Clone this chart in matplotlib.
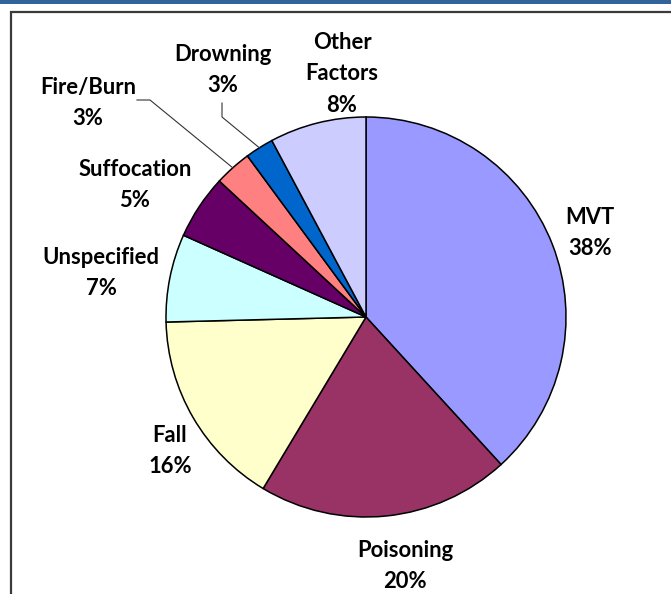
import numpy as np
import matplotlib
matplotlib.use('Agg')
import matplotlib.pyplot as plt
from matplotlib.patches import Rectangle

# datos del grafico
labels = ['MVT', 'Poisoning', 'Fall', 'Unspecified', 'Suffocation',
          'Fire/Burn', 'Drowning', 'Other\nFactors']
shares = [38.2, 20.4, 16.0, 7.1, 5.2, 3.0, 2.3, 7.8]
pct_text = ['38%', '20%', '16%', '7%', '5%', '3%', '3%', '8%']
colors = ['#9999FF', '#993366', '#FFFFCC', '#CCFFFF', '#660066',
          '#FF8080', '#0066CC', '#CCCCFF']

W, H = 671, 594

def px(x, y):
    # pixel (desde arriba) -> coordenadas de datos
    return x, H - y

# posiciones de las etiquetas (centro del bloque de texto, en pixeles)
label_pos = [(590, 233), (405, 566), (170, 451), (101, 273), (135, 185),
             (88, 103), (223, 70), (342, 74)]
# lineas guia para las etiquetas movidas
leader_start = {5: [(137, 100), (150, 100)], 6: [(222, 103), (222, 117)]}

cx, cy = px(366, 317)
R = 200

fig = plt.figure(figsize=(W / 100, H / 100), dpi=100)
ax = fig.add_axes([0, 0, 1, 1])

# marco
ax.add_patch(Rectangle(px(0, 4), W, 4, color='#32649C', lw=0))
ax.plot([11, 11, W], [0, H - 12, H - 12], color='#3a3a3a', lw=1.6,
        solid_joinstyle='miter')

wedges, _ = ax.pie(shares, colors=colors, startangle=90, counterclock=False,
                   center=(cx, cy), radius=R, frame=True,
                   wedgeprops=dict(edgecolor='black', linewidth=1.1))
ax.set_xlim(0, W)
ax.set_ylim(0, H)
ax.set_aspect('equal')
ax.axis('off')

fnt = dict(family=['Lato', 'DejaVu Sans'], weight='bold', size=15.8)
for i, (lab, p) in enumerate(zip(labels, pct_text)):
    x, y = px(*label_pos[i])
    ax.text(x, y, lab + '\n' + p, ha='center', va='center',
            linespacing=1.62, **fnt)

for i, pts in leader_start.items():
    w = wedges[i]
    mid = np.deg2rad((w.theta1 + w.theta2) / 2)
    ex, ey = cx + R * np.cos(mid), cy + R * np.sin(mid)
    xs = [p[0] for p in pts] + [ex]
    ys = [H - p[1] for p in pts] + [ey]
    ax.plot(xs, ys, color='#333333', lw=0.8)

fig.savefig('out.png', dpi=100)
